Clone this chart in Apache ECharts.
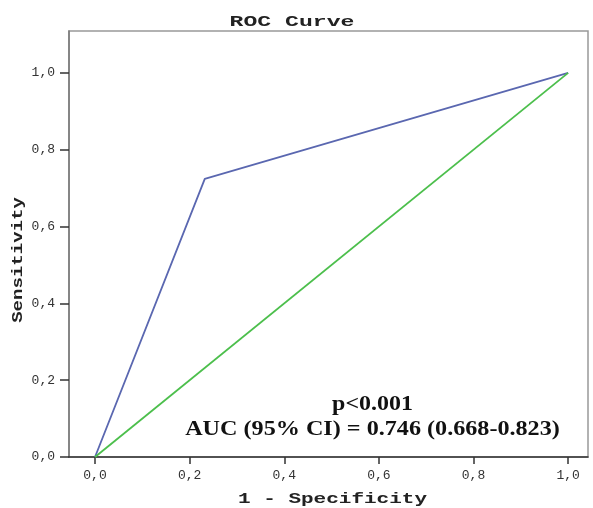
<!DOCTYPE html>
<html><head><meta charset="utf-8">
<script src="https://cdn.jsdelivr.net/npm/echarts@6/dist/echarts.min.js"></script>
<style>html,body{margin:0;padding:0;background:#fff}#c{width:593px;height:508px}</style>
</head><body><div id="c"></div>
<script>
// ROC data
const rocX = [0, 0.232, 1];
const rocY = [0, 0.724, 1];
const refX = [0, 1];
const refY = [0, 1];
const tickVals = [0, 0.2, 0.4, 0.6, 0.8, 1.0];
const tickLabels = ['0,0', '0,2', '0,4', '0,6', '0,8', '1,0'];
const titleText = 'ROC Curve';
const xName = '1 - Specificity';
const yName = 'Sensitivity';
const pText = 'p<0.001';
const aucText = 'AUC (95% CI) = 0.746 (0.668-0.823)';

const chart = echarts.init(document.getElementById('c'), null, {renderer: 'canvas'});
const mono = 'Liberation Mono';
const fmt = v => { const i = tickVals.findIndex(t => Math.abs(t - v) < 1e-6); return i >= 0 ? tickLabels[i] : ''; };
chart.setOption({
  animation: false,
  backgroundColor: '#fff',
  grid: {left: 69, top: 31, right: 5, bottom: 51, outerBoundsMode: 'none', containLabel: false,
         show: true, borderColor: '#999', borderWidth: 1.5},
  xAxis: {
    type: 'value', min: -0.055, max: 1.042,
    axisLine: {show: true, onZero: false, lineStyle: {color: '#333', width: 1.5}},
    axisTick: {show: true, length: 7, customValues: tickVals, lineStyle: {color: '#333', width: 1.5}},
    axisLabel: {customValues: tickVals, formatter: fmt, margin: 12, fontFamily: mono, fontSize: 13, color: '#333'},
    splitLine: {show: false}
  },
  yAxis: {
    type: 'value', min: 0, max: 1.109,
    axisLine: {show: true, onZero: false, lineStyle: {color: '#777', width: 1.5}},
    axisTick: {show: true, length: 9, customValues: tickVals, lineStyle: {color: '#333', width: 1.5}},
    axisLabel: {customValues: tickVals, formatter: fmt, margin: 14, fontFamily: mono, fontSize: 13, color: '#333'},
    splitLine: {show: false}
  },
  series: [
    {type: 'line', data: rocX.map((x, i) => [x, rocY[i]]), symbol: 'none',
     lineStyle: {color: '#5a67b0', width: 1.8}},
    {type: 'line', data: refX.map((x, i) => [x, refY[i]]), symbol: 'none',
     lineStyle: {color: '#4cbf4c', width: 1.8}}
  ],
  graphic: [
    {type: 'text', x: 292, y: 22, scaleX: 1.54,
     style: {text: titleText, font: 'bold 15px "Liberation Mono"', fill: '#222', textAlign: 'center', textVerticalAlign: 'middle'}},
    {type: 'text', x: 332.5, y: 499.5, scaleX: 1.5,
     style: {text: xName, font: 'bold 14px "Liberation Mono"', fill: '#222', textAlign: 'center', textVerticalAlign: 'middle'}},
    {type: 'text', x: 18.5, y: 260, scaleX: 1.36, rotation: Math.PI / 2,
     style: {text: yName, font: 'bold 14px "Liberation Mono"', fill: '#222', textAlign: 'center', textVerticalAlign: 'middle'}},
    {type: 'text', x: 372.5, y: 405, scaleX: 1.14,
     style: {text: pText, font: 'bold 21px "Liberation Serif"', fill: '#111', textAlign: 'center', textVerticalAlign: 'middle'}},
    {type: 'text', x: 372.5, y: 429.5, scaleX: 1.15,
     style: {text: aucText, font: 'bold 21px "Liberation Serif"', fill: '#111', textAlign: 'center', textVerticalAlign: 'middle'}}
  ]
});
</script></body></html>
